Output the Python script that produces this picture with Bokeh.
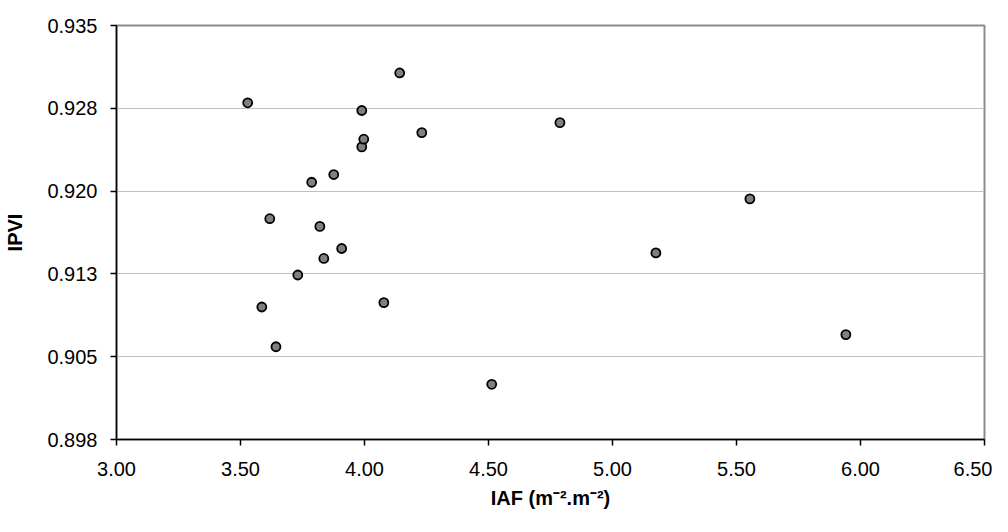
from bokeh.plotting import figure
from bokeh.models import FixedTicker, Range1d
from bokeh.embed import file_html
from bokeh.resources import INLINE

# Data
iaf = [3.529, 3.586, 3.618, 3.643, 3.731, 3.787, 3.820, 3.836, 3.876, 3.908,
       3.989, 3.989, 3.997, 4.078, 4.142, 4.231, 4.513, 4.788, 5.175, 5.554, 5.941]
ipvi = [0.9280, 0.9095, 0.9175, 0.9059, 0.9124, 0.9208, 0.9168, 0.9139, 0.9215, 0.9148,
        0.9273, 0.9240, 0.9247, 0.9099, 0.9307, 0.9253, 0.9025, 0.9262, 0.9144, 0.9193, 0.9070]

x_ticks = [3.0, 3.5, 4.0, 4.5, 5.0, 5.5, 6.0, 6.5]
x_tick_labels = ["3.00", "3.50", "4.00", "4.50", "5.00", "5.50", "6.00", "6.50"]
y_ticks = [0.8975, 0.905, 0.9125, 0.92, 0.9275, 0.935]
y_tick_labels = ["0.898", "0.905", "0.913", "0.920", "0.928", "0.935"]

FONT = "Liberation Sans"

p = figure(width=992, height=516, output_backend="svg", toolbar_location=None,
           x_range=Range1d(x_ticks[0], x_ticks[-1]),
           y_range=Range1d(y_ticks[0], y_ticks[-1]),
           min_border_left=116, min_border_right=8,
           min_border_top=25, min_border_bottom=77)

p.background_fill_color = "white"
p.border_fill_color = "white"
p.outline_line_color = "#8c8c8c"
p.outline_line_width = 2

p.xgrid.visible = False
p.ygrid.ticker = FixedTicker(ticks=y_ticks)
p.ygrid.grid_line_color = "#c0c0c0"
p.ygrid.grid_line_width = 1

for ax in (p.xaxis[0], p.yaxis[0]):
    ax.axis_line_color = "black"
    ax.axis_line_width = 1.5
    ax.major_tick_line_color = "black"
    ax.major_tick_line_width = 1.5
    ax.major_tick_in = 0
    ax.major_tick_out = 6
    ax.minor_tick_line_color = None
    ax.major_label_text_font = FONT
    ax.major_label_text_font_size = "20px"
    ax.major_label_text_color = "black"
    ax.axis_label_text_font = FONT
    ax.axis_label_text_font_size = "20px"
    ax.axis_label_text_font_style = "bold"
    ax.axis_label_text_color = "black"

p.xaxis.ticker = FixedTicker(ticks=x_ticks)
p.xaxis.major_label_overrides = {t: l for t, l in zip(x_ticks, x_tick_labels)}
p.xaxis.major_label_standoff = 16
p.xaxis.axis_label = "IAF (m\u207b\u00b2.m\u207b\u00b2)"
p.xaxis.axis_label_standoff = 8

p.yaxis.ticker = FixedTicker(ticks=y_ticks)
p.yaxis.major_label_overrides = {t: l for t, l in zip(y_ticks, y_tick_labels)}
p.yaxis.major_label_standoff = 13
p.yaxis.axis_label = "IPVI"
p.yaxis.axis_label_standoff = 18

p.scatter(iaf, ipvi, marker="circle", size=9, fill_color="#808080",
          line_color="black", line_width=1.8)

open("out.html", "w").write(file_html(p, INLINE))
